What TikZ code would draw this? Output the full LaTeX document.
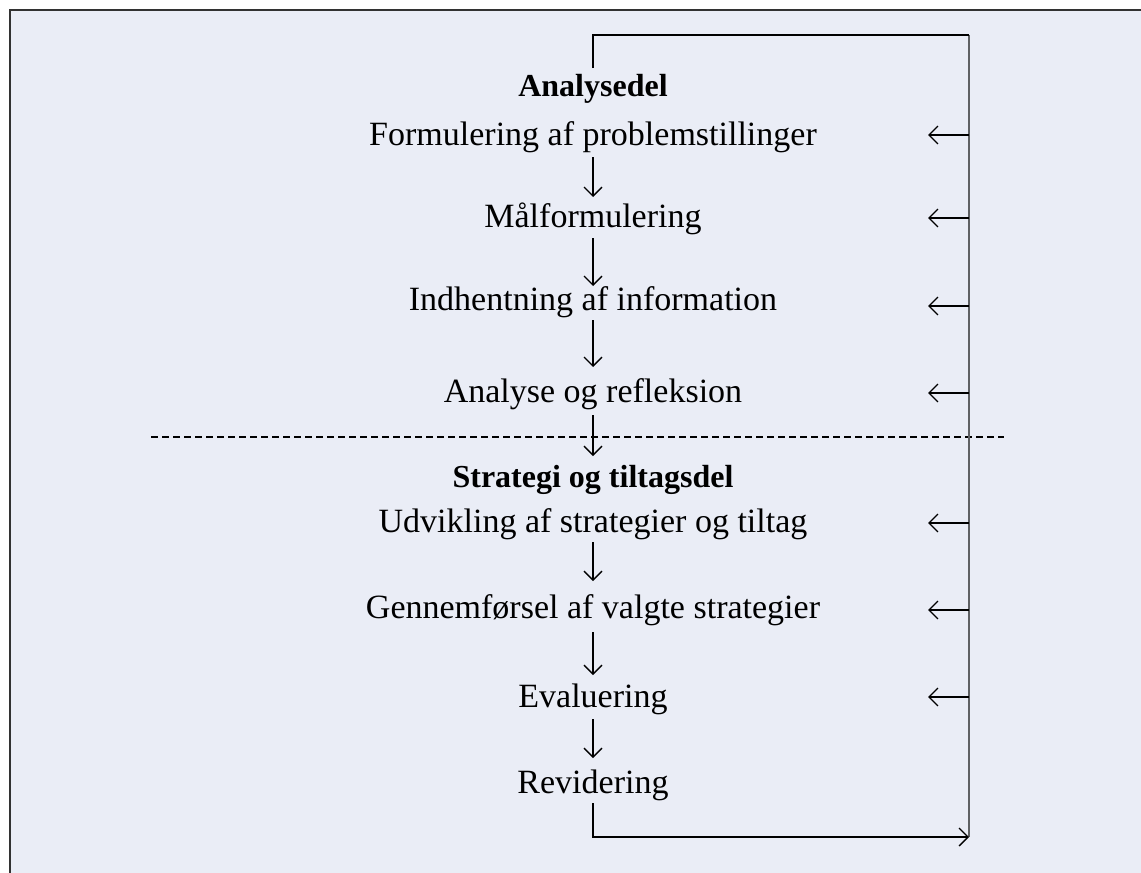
\documentclass[tikz,border=0pt]{standalone}
\usepackage{fontspec}
\setmainfont{Liberation Serif}
\usetikzlibrary{arrows.meta}
\definecolor{bgc}{RGB}{234,237,246}
\definecolor{framec}{RGB}{50,50,50}
\definecolor{loopc}{RGB}{95,97,100}
\tikzset{
  item/.style={anchor=base,inner sep=0pt,font=\fontsize{34}{40}\selectfont},
  head/.style={anchor=base,inner sep=0pt,font=\fontsize{32}{38}\selectfont\bfseries},
  arr/.style={line width=1.3pt,-{Straight Barb[length=9pt,width=18pt,line width=1.3pt]}},
  ln/.style={line width=1.3pt},
}
\begin{document}
\begin{tikzpicture}[x=1pt,y=-1pt]
\useasboundingbox (0,0) rectangle (1141,873);
\fill[white] (0,0) rectangle (1141,873);
\fill[bgc] (10,10) rectangle (1141,873);
\draw[framec,line width=1.6pt] (10,873) -- (10,10) -- (1141,10);

% texts
\node[head] (n0) at (593,96) {Analysedel};
\node[item] (n1) at (593,145) {Formulering af problemstillinger};
\node[item] (n2) at (593,227) {Målformulering};
\node[item] (n3) at (593,310) {Indhentning af information};
\node[item] (n4) at (593,402) {Analyse og refleksion};
\node[head] (n5) at (593,487) {Strategi og tiltagsdel};
\node[item] (n6) at (593,532) {Udvikling af strategier og tiltag};
\node[item] (n7) at (593,618) {Gennemførsel af valgte strategier};
\node[item] (n8) at (593,707) {Evaluering};
\node[item] (n9) at (593,793) {Revidering};

% dashed separator
\coordinate (dl) at (151,437);
\coordinate (dr) at (1004,437);
\draw[line width=1.5pt,dash pattern=on 7pt off 4pt] (dl) -- (dr);

% down arrows
\draw[arr] ([yshift=-12pt]n1.base) -- ([yshift=30pt]n2.base);
\draw[arr] ([yshift=-11pt]n2.base) -- ([yshift=24pt]n3.base);
\draw[arr] ([yshift=-10pt]n3.base) -- ([yshift=35pt]n4.base);
\draw[arr] ([yshift=-13pt]n4.base) -- ([yshift=31pt]n5.base);
\draw[arr] ([yshift=-10pt]n6.base) -- ([yshift=37pt]n7.base);
\draw[arr] ([yshift=-14pt]n7.base) -- ([yshift=32pt]n8.base);
\draw[arr] ([yshift=-12pt]n8.base) -- ([yshift=35pt]n9.base);

% feedback loop
\coordinate (tr) at (969,35);
\coordinate (tl) at (593,35);
\coordinate (te) at (593,68);
\coordinate (bs) at (593,803);
\coordinate (bl) at (593,837);
\coordinate (br) at (969,837);
\draw[loopc,line width=2pt] (tr) -- (br);
\draw[ln] (te) -- (tl) -- (tr);
\draw[arr] (bs) -- (bl) -- (br);

% feedback arrows
\foreach \i/\yy in {1/135,2/218,3/306,4/393,6/523,7/610,8/697}{
  \coordinate (r\i) at (969,\yy);
  \coordinate (l\i) at (928,\yy);
  \draw[arr] (r\i) -- (l\i);
}
\end{tikzpicture}
\end{document}
